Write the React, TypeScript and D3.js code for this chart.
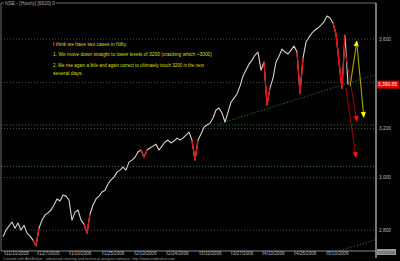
import React from "react";
import * as d3 from "d3";

// Hourly closes (NSE Nifty)
const closes: number[] = [
  2775, 2800, 2815, 2830, 2807, 2826, 2800, 2818, 2789, 2778, 2763, 2742,
  2807, 2837, 2856, 2864, 2875, 2894, 2917, 2909, 2932, 2928, 2913, 2837,
  2867, 2875, 2837, 2822, 2789, 2860, 2894, 2917, 2928, 2944, 2951, 2975,
  2991, 3002, 3022, 3030, 3042, 3030, 3062, 3070, 3082, 3103, 3111, 3082,
  3111, 3119, 3127, 3135, 3111, 3127, 3144, 3152, 3140, 3148, 3160, 3152,
  3160, 3173, 3185, 3152, 3070, 3152, 3177, 3206, 3215, 3223, 3245, 3279,
  3288, 3266, 3228, 3270, 3313, 3331, 3349, 3384, 3429, 3456, 3483, 3502,
  3525, 3539, 3456, 3493, 3301, 3375, 3420, 3493, 3520, 3553, 3539, 3530,
  3548, 3567, 3539, 3353, 3511, 3586, 3609, 3629, 3643, 3653, 3667, 3682,
  3711, 3701, 3677, 3624, 3493, 3375, 3619, 3390.65,
];
// bars drawn in red (sharp down bars)
const redBars: number[] = [11, 28, 47, 64, 88, 99, 111, 112, 113];

const lastPrice = 3390.65;
const yTicks: number[] = [2800, 3000, 3200, 3400, 3600];
const xTickIdx: number[] = [0.7, 11.7, 22.3, 33.3, 44, 54.7, 65.7, 76.3, 86.7, 97.3, 108];
const xTickLabels: string[] = [
  "11/21/2005", "12/7/2005", "1/10/2006", "1/25/2006", "2/10/2006", "2/24/2006",
  "3/10/2006", "3/27/2006", "4/10/2006", "4/26/2006", "5/10/2006",
];
const supportLevels: number[] = [3215, 3045];
// trend lines: [index, value] pairs
const trendUpper: [number, number][] = [[71.7, 3219], [124.3, 3436]];
const trendLower: [number, number][] = [[111.3, 2722], [124.3, 2765]];
// scenario arrows: [fromIdx, fromVal, toIdx, toVal]
const redArrows: [number, number, number, number][] = [
  [113.7, 3572, 118, 3228],
  [114.3, 3375, 117.7, 3078],
];
const yellowArrows: [number, number, number, number][] = [
  [115.7, 3384, 118, 3595],
  [118, 3572, 120.3, 3245],
];
const noteLines: string[] = [
  "I think we have two cases in Nifty.",
  "1. We move down straight to lower levels of 3200 (cracking which ~3000)",
  "2. We rise again a little and again correct to ultimately touch 3200 in the next",
  "several days.",
];
const noteWidths = [74, 159, 151, 30];
const noteY = [45.5, 56, 66.5, 74.5];

const W = 400, H = 261;
const L = 1, R = 376, T = 3, B = 251;

function Arrow({ x1, y1, x2, y2, line, head }: any) {
  const ang = Math.atan2(y2 - y1, x2 - x1);
  const len = 6, hw = 2.6;
  const bx = x2 - len * Math.cos(ang), by = y2 - len * Math.sin(ang);
  const px = -Math.sin(ang) * hw, py = Math.cos(ang) * hw;
  return (
    <g>
      <line x1={x1} y1={y1} x2={bx} y2={by} stroke={line} strokeWidth={1.1} />
      <polygon points={`${x2},${y2} ${bx + px},${by + py} ${bx - px},${by - py}`} fill={head} />
    </g>
  );
}

export default function App() {
  const x = d3.scaleLinear().domain([0, 115]).range([3, 348]);
  const y = d3.scaleLog().domain([2724, 3775]).range([B, T]);
  const line = d3.line<number>().x((_, i) => x(i)).y((d) => y(d));
  const fmt = d3.format(",");

  const redSegs: [number, number][] = [];
  redBars.forEach((i) => {
    if (i > 0) redSegs.push([i - 1, i]);
    if (i < closes.length - 1) redSegs.push([i, i + 1]);
  });

  const font = "'Liberation Sans', Arial, sans-serif";
  return (
    <svg width={W} height={H} style={{ position: "fixed", left: 0, top: 0, background: "#000" }}>
      <rect x={0} y={0} width={W} height={H} fill="#000" />
      <defs>
        <clipPath id="plot">
          <rect x={L} y={T} width={R - L} height={B - T} />
        </clipPath>
      </defs>
      {/* grid */}
      {yTicks.map((t) => (
        <line key={t} x1={L} x2={R} y1={y(t)} y2={y(t)} stroke="#5a5a5a" strokeWidth={0.8} strokeDasharray="1,2" />
      ))}
      <g clipPath="url(#plot)">
        {supportLevels.map((s) => (
          <line key={s} x1={L} x2={R} y1={y(s)} y2={y(s)} stroke="#1f8a1f" strokeWidth={0.9} strokeDasharray="1.2,1.8" />
        ))}
        {[trendUpper, trendLower].map((tl, k) => (
          <line key={k} x1={x(tl[0][0])} y1={y(tl[0][1])} x2={x(tl[1][0])} y2={y(tl[1][1])}
            stroke="#1f8a1f" strokeWidth={0.9} strokeDasharray="1.2,1.8" />
        ))}
        <path d={line(closes) || ""} fill="none" stroke="#ddd0d0" strokeWidth={1.1} strokeLinejoin="round" />
        {redSegs.map(([a, b], k) => (
          <line key={k} x1={x(a)} y1={y(closes[a])} x2={x(b)} y2={y(closes[b])} stroke="#e01010" strokeWidth={1.3} />
        ))}
        {redArrows.map((a, k) => (
          <Arrow key={k} x1={x(a[0])} y1={y(a[1])} x2={x(a[2])} y2={y(a[3])} line="#9a0000" head="#ff1010" />
        ))}
        {yellowArrows.map((a, k) => (
          <Arrow key={k} x1={x(a[0])} y1={y(a[1])} x2={x(a[2])} y2={y(a[3])} line="#a8a800" head="#ffff00" />
        ))}
      </g>
      {/* note text */}
      {noteLines.map((s, i) => (
        <text key={i} x={53} y={noteY[i]} fontFamily={font} fontSize={4.6} fill="#dede00"
          textLength={noteWidths[i]} lengthAdjust="spacingAndGlyphs">{s}</text>
      ))}
      {/* frame */}
      <line x1={L} x2={L} y1={T} y2={B} stroke="#888" strokeWidth={0.8} />
      <line x1={L} x2={4} y1={T} y2={T} stroke="#888" strokeWidth={0.8} />
      <line x1={56} x2={R} y1={T} y2={T} stroke="#888" strokeWidth={0.8} />
      <line x1={L} x2={R} y1={B} y2={B} stroke="#999" strokeWidth={0.9} />
      <line x1={R} x2={R} y1={T} y2={B + 7} stroke="#aaa" strokeWidth={1.4} />
      <text x={5} y={5} fontFamily={font} fontSize={4.8} fill="#aaa" textLength={50} lengthAdjust="spacingAndGlyphs">
        NSE - [Hourly]  [6620] 0
      </text>
      {/* y axis labels */}
      {yTicks.filter((t) => t !== 3400).map((t) => (
        <text key={t} x={379} y={y(t) + 1.7} fontFamily={font} fontSize={4.8} fill="#bbb">{fmt(t)}</text>
      ))}
      <rect x={377} y={y(lastPrice) - 4} width={22} height={8} fill="#e00000" />
      <text x={378} y={y(lastPrice) + 1.7} fontFamily={font} fontSize={4.8} fill="#fff" textLength={19} lengthAdjust="spacingAndGlyphs">
        {d3.format(",.2f")(lastPrice)}
      </text>
      {/* x axis */}
      {xTickIdx.map((t, i) => (
        <g key={i}>
          <line x1={x(t)} x2={x(t)} y1={B} y2={B + 4} stroke="#aaa" strokeWidth={0.7} />
          <text x={x(t) + 1} y={B + 4} fontFamily={font} fontSize={4.6} fill="#bbb">{xTickLabels[i]}</text>
        </g>
      ))}
      <rect x={377} y={249} width={19} height={6} fill="#9a9a9a" />
      <text x={378} y={253.7} fontFamily={font} fontSize={4.4} fill="#333" textLength={17} lengthAdjust="spacingAndGlyphs">5/25/2006</text>
      <text x={3} y={260} fontFamily={font} fontSize={3.8} fill="#999" textLength={172} lengthAdjust="spacingAndGlyphs">
        Created with AmiBroker - advanced charting and technical analysis software. http://www.amibroker.com
      </text>
    </svg>
  );
}
